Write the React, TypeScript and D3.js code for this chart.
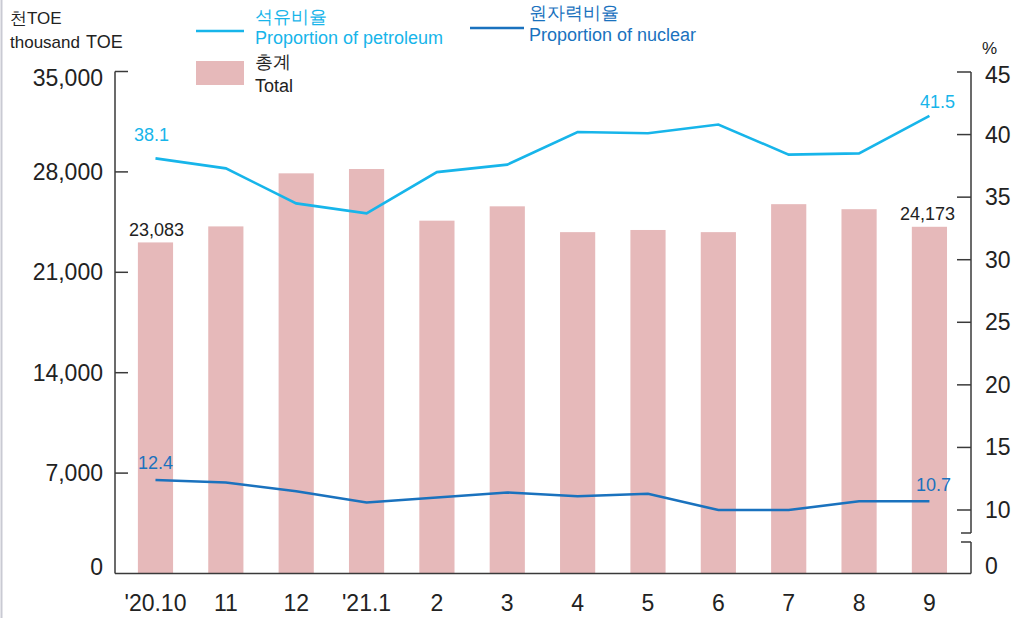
import React from "react";
import * as d3 from "d3";

const months = ["'20.10", "11", "12", "'21.1", "2", "3", "4", "5", "6", "7", "8", "9"];
const totals = [23083, 24200, 27900, 28200, 24600, 25600, 23800, 23950, 23800, 25750, 25400, 24173];
const petroleum = [38.1, 37.3, 34.5, 33.7, 37.0, 37.6, 40.2, 40.1, 40.8, 38.4, 38.5, 41.5];
const nuclear = [12.4, 12.2, 11.5, 10.6, 11.0, 11.4, 11.1, 11.3, 10.0, 10.0, 10.7, 10.7];
const leftTicks = [0, 7000, 14000, 21000, 28000, 35000];
const rightTicks = [10, 15, 20, 25, 30, 35, 40, 45];

const FONT = "'Liberation Sans', Arial, sans-serif";
const PET = "#17b5ea";
const NUC = "#1a72be";
const BAR = "#e6b9ba";
const AX = "#3a3a3a";

export default function App() {
  const W = 1017, H = 618;
  const axL = 115, axR = 971, axBottom = 573.5;
  const x = d3.scaleBand<string>().domain(months).range([120.3, 964.6]).paddingInner(0.5).paddingOuter(0.25);
  const cx = (m: string) => (x(m) as number) + x.bandwidth() / 2;
  const yL = d3.scaleLinear().domain([0, 35000]).range([axBottom, 71.5]);
  const yR = d3.scaleLinear().domain([10, 45]).range([510, 72]);
  const line = d3.line<number>().x((_, i) => cx(months[i])).y((d) => yR(d));
  const fmt = d3.format(",");
  const first = months[0], last = months[months.length - 1];

  return (
    <svg width={W} height={H} style={{ position: "absolute", left: 0, top: 0, background: "#fff" }} fontFamily={FONT}>
      <rect x={0} y={0} width={W} height={H} fill="#fff" />
      <line x1={1.5} x2={1.5} y1={0} y2={H} stroke="#c9cad3" strokeWidth={2} />
      {/* bars */}
      {totals.map((v, i) => (
        <rect key={i} x={x(months[i])} y={yL(v)} width={x.bandwidth()} height={axBottom - yL(v)} fill={BAR} />
      ))}
      {/* lines */}
      <path d={line(petroleum) as string} fill="none" stroke={PET} strokeWidth={2.6} />
      <path d={line(nuclear) as string} fill="none" stroke={NUC} strokeWidth={2.6} />
      {/* axes */}
      <line x1={axL} x2={axL} y1={yL(35000)} y2={axBottom} stroke={AX} strokeWidth={1.5} />
      <line x1={axL} x2={axR} y1={axBottom} y2={axBottom} stroke={AX} strokeWidth={1.5} />
      {leftTicks.map((t) => (
        <g key={t}>
          {t > 0 && <line x1={axL} x2={axL + 13} y1={yL(t)} y2={yL(t)} stroke={AX} strokeWidth={1.5} />}
          <text x={103} y={yL(t) + (t === 35000 ? 6 : t === 0 ? -7 : 0)} dy="0.35em" textAnchor="end" fontSize={23} fill="#222">
            {fmt(t)}
          </text>
        </g>
      ))}
      <line x1={axR} x2={axR} y1={yR(45)} y2={533} stroke={AX} strokeWidth={1.5} />
      <line x1={axR - 10} x2={axR} y1={533} y2={533} stroke={AX} strokeWidth={1.5} />
      <line x1={axR - 10} x2={axR} y1={542} y2={542} stroke={AX} strokeWidth={1.5} />
      <line x1={axR} x2={axR} y1={542} y2={axBottom} stroke={AX} strokeWidth={1.5} />
      {rightTicks.map((t) => (
        <g key={t}>
          <line x1={axR - 14} x2={axR} y1={yR(t)} y2={yR(t)} stroke={AX} strokeWidth={1.5} />
          <text x={985} y={yR(t) + (t === 45 ? 3 : 0)} dy="0.35em" textAnchor="start" fontSize={23} fill="#222">
            {t}
          </text>
        </g>
      ))}
      <text x={985} y={566} dy="0.35em" fontSize={23} fill="#222">0</text>
      <text x={982} y={48} dy="0.35em" fontSize={17} fill="#222">%</text>
      {/* x labels */}
      {months.map((m) => (
        <text key={m} x={cx(m)} y={603} dy="0.35em" textAnchor="middle" fontSize={23} fill="#222">
          {m}
        </text>
      ))}
      {/* data labels */}
      <text x={cx(first) - 4} y={yR(petroleum[0]) - 17} textAnchor="middle" fontSize={18} fill={PET}>{petroleum[0]}</text>
      <text x={cx(last) + 8} y={yR(petroleum[11]) - 8} textAnchor="middle" fontSize={18} fill={PET}>{petroleum[11]}</text>
      <text x={cx(first) + 1} y={yL(totals[0]) - 6} textAnchor="middle" fontSize={18} fill="#222">{fmt(totals[0])}</text>
      <text x={cx(last) - 2} y={yL(totals[11]) - 7} textAnchor="middle" fontSize={18} fill="#222">{fmt(totals[11])}</text>
      <text x={cx(first)} y={yR(nuclear[0]) - 11} textAnchor="middle" fontSize={18} fill={NUC}>{nuclear[0]}</text>
      <text x={cx(last) + 4} y={yR(nuclear[11]) - 10} textAnchor="middle" fontSize={18} fill={NUC}>{nuclear[11]}</text>
      {/* units */}
      <text x={10} y={18} dy="0.35em" fontSize={17} fill="#222">천TOE</text>
      <text x={10} y={42} dy="0.35em" fontSize={17} fill="#222">thousand</text>
      <text x={86} y={42} dy="0.35em" fontSize={18} fill="#222">TOE</text>
      {/* legend */}
      <line x1={196} x2={244} y1={31} y2={31} stroke={PET} strokeWidth={2.6} />
      <text x={255} y={17} dy="0.35em" fontSize={18} fill={PET}>석유비율</text>
      <text x={255} y={38} dy="0.35em" fontSize={18} fill={PET}>Proportion of petroleum</text>
      <line x1={470} x2={524} y1={28} y2={28} stroke={NUC} strokeWidth={2.6} />
      <text x={529} y={13} dy="0.35em" fontSize={18} fill={NUC}>원자력비율</text>
      <text x={529} y={35} dy="0.35em" fontSize={18} fill={NUC}>Proportion of nuclear</text>
      <rect x={196} y={61} width={48} height={24} fill={BAR} />
      <text x={255} y={62} dy="0.35em" fontSize={18} fill="#222">총계</text>
      <text x={255} y={86} dy="0.35em" fontSize={18} fill="#222">Total</text>
    </svg>
  );
}
